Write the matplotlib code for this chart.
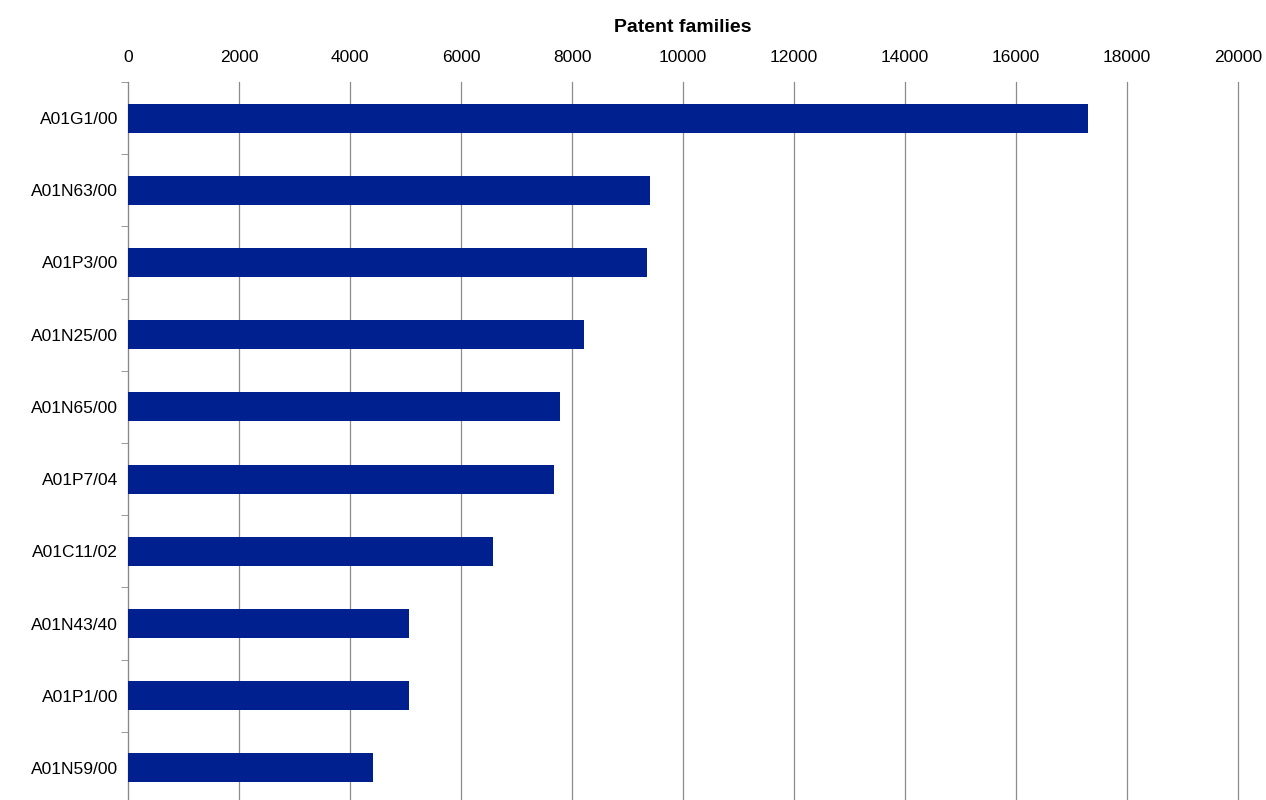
import matplotlib.pyplot as plt
import numpy as np

codes = ['A01G1/00', 'A01N63/00', 'A01P3/00', 'A01N25/00', 'A01N65/00',
         'A01P7/04', 'A01C11/02', 'A01N43/40', 'A01P1/00', 'A01N59/00']
families = [17300, 9400, 9350, 8220, 7780, 7680, 6580, 5060, 5060, 4410]

plt.rcParams['font.family'] = ['Liberation Sans', 'DejaVu Sans']

fig = plt.figure(figsize=(12.66, 8), dpi=100)
ax = fig.add_axes([128 / 1266, -0.005, 1110 / 1266, 1 - 82 / 800 + 0.005])

y = np.arange(len(codes))
ax.barh(y, families, height=0.4, color='#002090', zorder=3)
ax.set_ylim(len(codes) - 0.5, -0.5)
ax.set_xlim(0, 20000)
ax.set_xticks(range(0, 20001, 2000))
ax.xaxis.tick_top()
ax.xaxis.set_label_position('top')
ax.set_xlabel('Patent families', fontsize=14, fontweight='bold', labelpad=13)
ax.tick_params(axis='x', length=0, labelsize=12.5, pad=12)
ax.set_yticks(y)
ax.set_yticklabels(codes, fontsize=12.5)
ax.tick_params(axis='y', length=0, pad=7)
ax.set_yticks(np.arange(-0.5, len(codes), 1), minor=True)
ax.tick_params(axis='y', which='minor', length=5, color='#888888', direction='out')
ax.grid(axis='x', color='#8c8c8c', linewidth=0.9, zorder=0)
for gl in ax.get_xgridlines():
    gl.set_clip_on(False)
for s in ['top', 'right', 'bottom']:
    ax.spines[s].set_visible(False)
ax.spines['left'].set_color('#888888')

fig.savefig('out.png')
